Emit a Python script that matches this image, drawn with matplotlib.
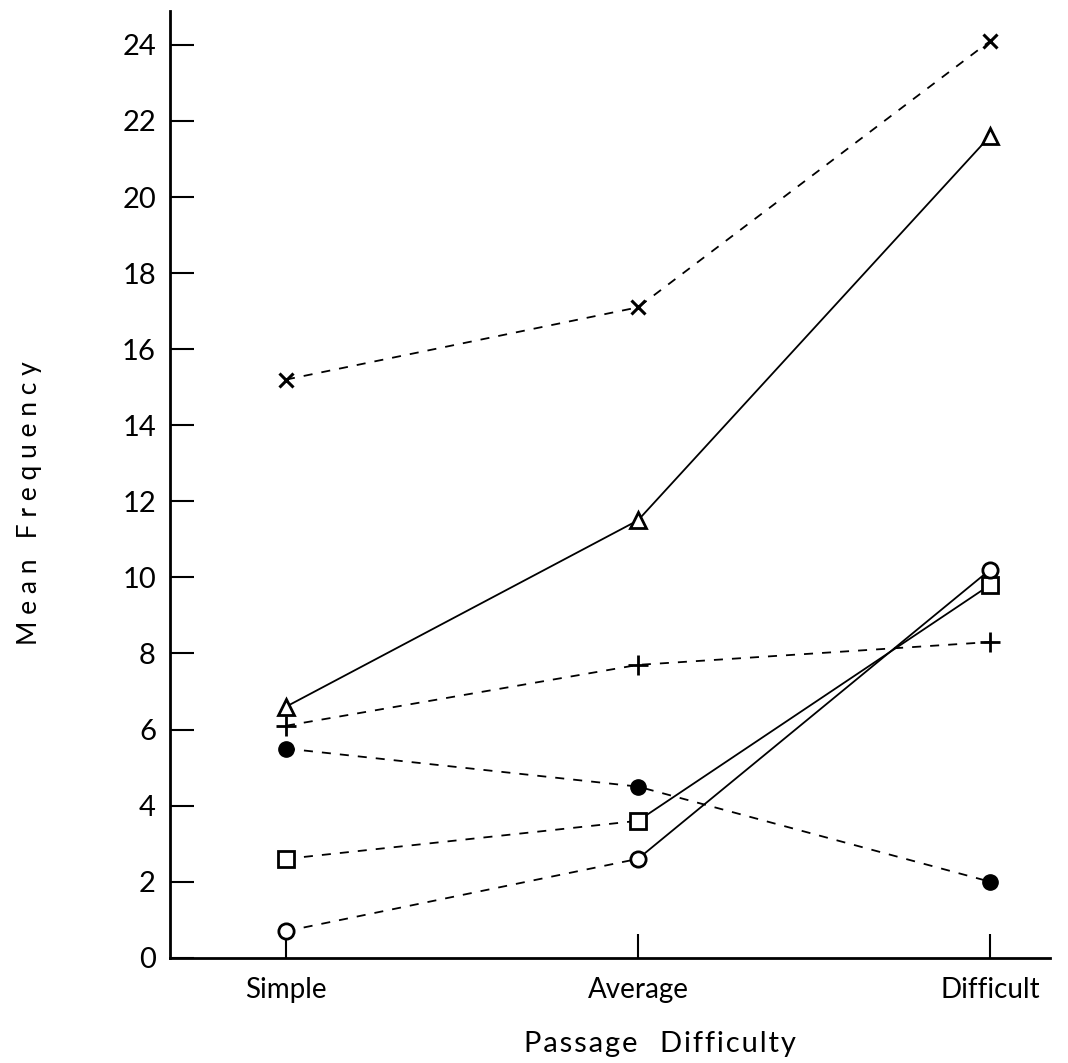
import numpy as np
import matplotlib.pyplot as plt

plt.rcParams['font.family'] = ['Lato', 'DejaVu Sans']

categories = ["Simple", "Average", "Difficult"]
yticks = [0, 2, 4, 6, 8, 10, 12, 14, 16, 18, 20, 22, 24]

# series values (Simple, Average, Difficult)
cross = [15.2, 17.1, 24.1]
triangle = [6.6, 11.5, 21.6]
plus = [6.1, 7.7, 8.3]
dot = [5.5, 4.5, 2.0]
square = [2.6, 3.6, 9.8]
circle = [0.7, 2.6, 10.2]

x = np.arange(len(categories))

fig = plt.figure(figsize=(10.68, 10.63), dpi=100)
ax = fig.add_axes([0.159, 0.099, 0.824, 0.891])

lw = 1.3
dash = (0, (5, 5))

ax.plot(x, cross, color='black', lw=lw, linestyle=dash, marker='x',
        markersize=10, markeredgewidth=2.2)
ax.plot(x, triangle, color='black', lw=lw, linestyle='-', marker='^',
        markersize=11, markerfacecolor='white', markeredgewidth=2)
ax.plot(x, plus, color='black', lw=lw, linestyle=dash, marker='+',
        markersize=14, markeredgewidth=2)
ax.plot(x, dot, color='black', lw=lw, linestyle=dash, marker='o',
        markersize=11, markerfacecolor='black')

# square and open circle: dashed first segment, solid second
for vals, m in [(square, 's'), (circle, 'o')]:
    ax.plot(x[:2], vals[:2], color='black', lw=lw, linestyle=dash)
    ax.plot(x[1:], vals[1:], color='black', lw=lw, linestyle='-')
    ax.plot(x, vals, linestyle='none', marker=m, markersize=11,
            markerfacecolor='white', markeredgecolor='black',
            markeredgewidth=2, zorder=5)

ax.set_xlim(-0.33, 2.17)
ax.set_ylim(0, 24.9)
ax.set_xticks(x)
ax.set_xticklabels(categories)
ax.set_yticks(yticks)

for s in ['top', 'right']:
    ax.spines[s].set_visible(False)
for s in ['left', 'bottom']:
    ax.spines[s].set_linewidth(2)

ax.tick_params(axis='y', direction='in', length=17, width=1.5,
               labelsize=21, pad=10)
ax.tick_params(axis='x', direction='in', length=17, width=1.5,
               labelsize=20, pad=14)

hs = "\u200a"
ax.set_ylabel("M e a n   F r e q u e n c y", fontsize=19)
ax.set_xlabel(hs.join("Passage") + "   " + hs.join("Difficulty"),
              fontsize=21)
ax.yaxis.set_label_coords(-0.145, 0.48)
ax.xaxis.set_label_coords(0.557, -0.077)

fig.savefig("out.png", dpi=100)
